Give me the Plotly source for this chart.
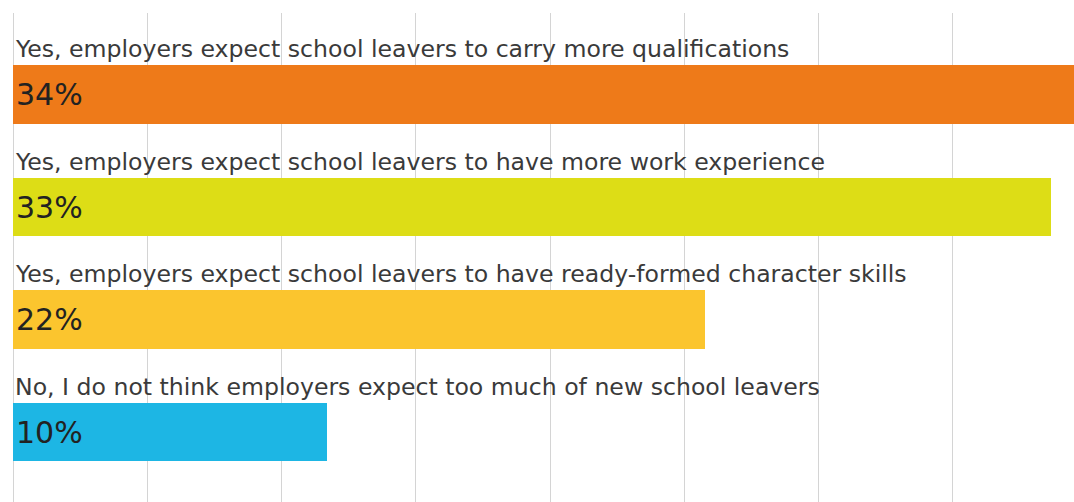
import plotly.graph_objects as go

categories = [
    "Yes, employers expect school leavers to carry more qualifications",
    "Yes, employers expect school leavers to have more work experience",
    "Yes, employers expect school leavers to have ready-formed character skills",
    "No, I do not think employers expect too much of new school leavers",
]
values = [34, 33, 22, 10]
colors = ["#EE7A19", "#DDDD16", "#FBC52E", "#1DB6E4"]

ypos = list(range(len(categories)))
bar_w = 0.52

fig = go.Figure()
fig.add_trace(go.Bar(
    x=values, y=ypos, orientation="h", width=bar_w,
    marker=dict(color=colors, line=dict(width=0)),
    text=[f"{v}%" for v in values], textposition="inside",
    insidetextanchor="start",
    textfont=dict(family="DejaVu Sans", size=30, color="#222222"),
    hoverinfo="skip",
))

for i, c in enumerate(categories):
    fig.add_annotation(
        x=0, y=i - bar_w / 2, xref="x", yref="y", text=c, showarrow=False,
        xanchor="left", yanchor="bottom", xshift=0, yshift=0,
        font=dict(family="DejaVu Sans", size=23.6, color="#3A3A3A"),
    )

fig.update_layout(
    width=1074, height=502,
    margin=dict(l=13, r=0, t=13, b=0),
    paper_bgcolor="white", plot_bgcolor="white",
    showlegend=False,
    xaxis=dict(range=[0, 33.74], tick0=0, dtick=4.27, showgrid=True,
               gridcolor="#D4D4D4", gridwidth=1, zeroline=True,
               zerolinecolor="#D4D4D4", zerolinewidth=1,
               showticklabels=False, ticks="", fixedrange=True),
    yaxis=dict(range=[3.62, -0.724], showgrid=False, zeroline=False,
               showticklabels=False, ticks="", fixedrange=True),
    bargap=0,
)

fig.write_html("out.html")
